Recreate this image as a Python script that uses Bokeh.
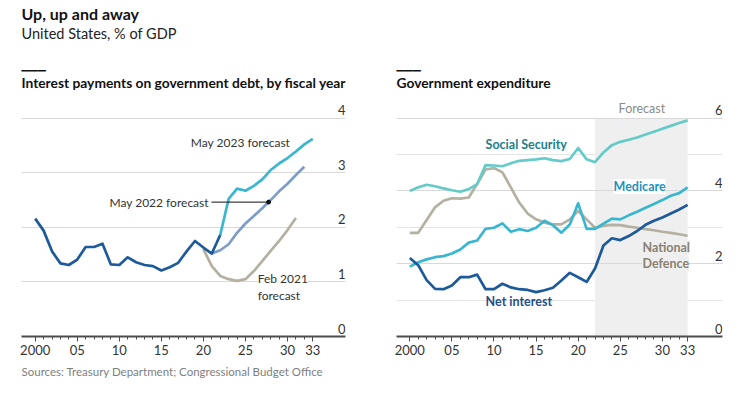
import numpy as np
from bokeh.plotting import figure
from bokeh.layouts import row
from bokeh.models import (Range1d, FixedTicker, Grid, Label, LabelSet, Title,
                          ColumnDataSource, BoxAnnotation)
from bokeh.core.properties import value
from bokeh.embed import file_html
from bokeh.resources import INLINE

# ---------------- data ----------------
# Left panel: interest payments on government debt, % of GDP
hist_years = list(range(2000, 2023))
net_interest_hist = [2.16, 1.94, 1.56, 1.34, 1.31, 1.41, 1.64, 1.64, 1.70, 1.32,
                     1.31, 1.45, 1.36, 1.31, 1.29, 1.21, 1.27, 1.35, 1.56, 1.75,
                     1.63, 1.52, 1.86]
may2023_years = list(range(2022, 2034))
may2023_forecast = [1.86, 2.52, 2.71, 2.67, 2.76, 2.88, 3.05, 3.17, 3.27, 3.39,
                    3.52, 3.62]
may2022_years = list(range(2021, 2033))
may2022_forecast = [1.52, 1.58, 1.69, 1.90, 2.07, 2.21, 2.35, 2.50, 2.66, 2.80,
                    2.96, 3.11]
feb2021_years = list(range(2020, 2032))
feb2021_forecast = [1.60, 1.29, 1.11, 1.05, 1.02, 1.05, 1.20, 1.38, 1.57, 1.75,
                    1.95, 2.17]

# Right panel: government expenditure, % of GDP
exp_years = list(range(2000, 2034))
social_security = [4.00, 4.10, 4.17, 4.13, 4.07, 4.02, 3.98, 4.05, 4.19, 4.71,
                   4.70, 4.68, 4.76, 4.83, 4.85, 4.87, 4.90, 4.85, 4.82, 4.88,
                   5.18, 4.87, 4.79, 5.06, 5.26, 5.35, 5.41, 5.47, 5.55, 5.63,
                   5.71, 5.79, 5.87, 5.94]
national_defence = [2.85, 2.85, 3.20, 3.55, 3.73, 3.80, 3.79, 3.82, 4.19, 4.59,
                    4.63, 4.51, 4.10, 3.68, 3.38, 3.22, 3.13, 3.08, 3.08, 3.22,
                    3.45, 3.22, 2.99, 3.04, 3.07, 3.06, 3.02, 2.99, 2.95, 2.92,
                    2.88, 2.85, 2.81, 2.77]
medicare = [1.92, 2.04, 2.12, 2.18, 2.21, 2.28, 2.39, 2.58, 2.64, 2.96,
            2.99, 3.11, 2.88, 2.95, 2.90, 2.99, 3.18, 3.06, 2.85, 3.08,
            3.66, 2.96, 2.96, 3.10, 3.24, 3.22, 3.33, 3.43, 3.54, 3.64,
            3.75, 3.87, 3.94, 4.10]
net_interest = [2.16, 1.96, 1.55, 1.31, 1.30, 1.40, 1.63, 1.63, 1.70, 1.30,
                1.30, 1.45, 1.35, 1.30, 1.28, 1.22, 1.27, 1.34, 1.54, 1.75,
                1.63, 1.50, 1.87, 2.50, 2.70, 2.65, 2.76, 2.90, 3.07, 3.18,
                3.27, 3.38, 3.49, 3.62]
forecast_start, forecast_end = 2022, 2033

# ticks
x_major_ticks = [2000, 2005, 2010, 2015, 2020, 2025, 2030, 2033]
x_tick_labels = ["2000", "05", "10", "15", "20", "25", "30", "33"]
x_minor_ticks = list(range(2000, 2034))
left_y_ticks = [0, 1, 2, 3, 4]
right_y_ticks = [0, 2, 4, 6]

# ---------------- style ----------------
FONT = "Lato"
DARK_BLUE = "#1d5a99"
CYAN = "#39b6d0"
STEEL = "#7c9dc9"
BEIGE = "#b4b0a2"
TEAL = "#64cbc9"
SHADE = "#efefef"
GRID = "#d9d9d9"
AXIS = "#4d4d4d"
TXT = "#333333"
LW = 2.7
H = 390


def make_fig(width, x_range, y_end, border_left, border_right):
    p = figure(width=width, height=H, x_range=Range1d(*x_range),
               y_range=Range1d(0, y_end), output_backend="svg",
               toolbar_location=None, y_axis_location=None,
               min_border_left=border_left, min_border_right=border_right,
               min_border_top=98, min_border_bottom=H - 336)
    p.outline_line_color = None
    p.xgrid.visible = False
    ax = p.xaxis[0]
    ax.ticker = FixedTicker(ticks=x_major_ticks, minor_ticks=x_minor_ticks)
    ax.major_label_overrides = dict(zip(x_major_ticks, x_tick_labels))
    ax.axis_line_color = AXIS
    ax.axis_line_width = 2
    ax.major_tick_line_color = AXIS
    ax.minor_tick_line_color = AXIS
    ax.major_tick_in = 0
    ax.major_tick_out = 5
    ax.minor_tick_in = 0
    ax.minor_tick_out = 3
    ax.major_label_standoff = 3
    ax.major_label_text_font = FONT
    ax.major_label_text_font_size = "13px"
    ax.major_label_text_color = TXT
    return p


def add_grid_and_labels(p, ticks):
    p.add_layout(Grid(dimension=1, ticker=FixedTicker(ticks=[t for t in ticks if t > 0]),
                      grid_line_color=GRID, grid_line_width=1))
    src = ColumnDataSource(dict(x=[p.x_range.end] * len(ticks), y=ticks,
                                text=[str(t) for t in ticks]))
    p.add_layout(LabelSet(x="x", y="y", text="text", source=src,
                          text_align="right", text_baseline="alphabetic",
                          y_offset=3, text_font=value(FONT),
                          text_font_size="13px", text_color=TXT))


def title(p, text, size, font=FONT, style="normal", color="#111111",
          standoff=0, side="above", valign="bottom"):
    p.add_layout(Title(text=text, text_font=font, text_font_size=size,
                       text_font_style=style, text_color=color, align="left",
                       offset=0, standoff=standoff, vertical_align=valign), side)


def panel_header(p, text):
    title(p, " ", "2px", standoff=4)                                   # spacer
    title(p, text, "13.8px", style="bold")                             # panel title
    title(p, "\u2581\u2581\u2581", "10.5px", font="DejaVu Sans",
          standoff=2)                                                  # short rule


def data_label(p, x, y, text, color, bg=None, style="normal", size="12px",
               align="left"):
    p.add_layout(Label(x=x, y=y, text=text, text_font=FONT, text_font_size=size,
                       text_color=color, text_font_style=style,
                       text_baseline="middle", text_align=align,
                       background_fill_color=bg,
                       background_fill_alpha=1.0 if bg else 0.0))


# ---------------- left panel ----------------
p1 = make_fig(380, (1998.371, 2036.896), 4.361, 21, 35)
add_grid_and_labels(p1, left_y_ticks)

p1.line(feb2021_years, feb2021_forecast, line_color=BEIGE, line_width=LW, line_join="round")
p1.line(may2022_years, may2022_forecast, line_color=STEEL, line_width=LW, line_join="round")
p1.line(may2023_years, may2023_forecast, line_color=CYAN, line_width=LW, line_join="round")
p1.line(hist_years, net_interest_hist, line_color=DARK_BLUE, line_width=LW, line_join="round")

# leader for May 2022 forecast, ending on its line
leader_x = 2027.75
leader_y = float(np.interp(leader_x, may2022_years, may2022_forecast))
p1.segment(x0=[2020.95], y0=[leader_y], x1=[leader_x], y1=[leader_y],
           line_color="#111111", line_width=1)
p1.scatter([leader_x], [leader_y], size=4, color="#111111")

data_label(p1, 2018.5, 3.55, "May 2023 forecast", TXT)
data_label(p1, 2020.65, leader_y, "May 2022 forecast", TXT, align="right")
data_label(p1, 2026.45, 1.06, "Feb 2021", TXT, bg="white")
data_label(p1, 2026.45, 0.75, "forecast", TXT)

panel_header(p1, "Interest payments on government debt, by fiscal year")
title(p1, " ", "2px", standoff=10)                                      # spacer
title(p1, "United States, % of GDP", "14.5px", color="#222222")
title(p1, "Up, up and away", "16px", style="bold")
title(p1, "Sources: Treasury Department; Congressional Budget Office", "11.5px",
      color="#808080", standoff=14, side="below", valign="top")

# ---------------- right panel ----------------
p2 = make_fig(367, (1998.42, 2037.14), 6.542, 16, 25)
p2.add_layout(BoxAnnotation(left=forecast_start, right=forecast_end, bottom=0, top=6,
                            fill_color=SHADE, fill_alpha=1, line_color=None,
                            level="underlay"))
add_grid_and_labels(p2, right_y_ticks)

p2.line(exp_years, national_defence, line_color=BEIGE, line_width=LW, line_join="round")
p2.line(exp_years, social_security, line_color=TEAL, line_width=LW, line_join="round")
p2.line(exp_years, medicare, line_color=CYAN, line_width=LW, line_join="round")
p2.line(exp_years, net_interest, line_color=DARK_BLUE, line_width=LW, line_join="round")

data_label(p2, 2024.8, 6.27, "Forecast", "#8c8c8c", size="12.5px")
data_label(p2, 2009.0, 5.28, "Social Security", "#1b7f8c", style="bold", size="12.5px")
data_label(p2, 2024.2, 4.12, "Medicare", "#1a94bf", bg="white", style="bold", size="12.5px")
data_label(p2, 2027.64, 2.45, "National", "#8a8170", bg=SHADE, style="bold", size="12.5px")
data_label(p2, 2027.64, 2.0, "Defence", "#8a8170", bg=SHADE, style="bold", size="12.5px")
data_label(p2, 2009.0, 0.96, "Net interest", "#1d4f8a", style="bold", size="12.5px")

panel_header(p2, "Government expenditure")

layout = row(p1, p2)
open("out.html", "w").write(file_html(layout, INLINE))
